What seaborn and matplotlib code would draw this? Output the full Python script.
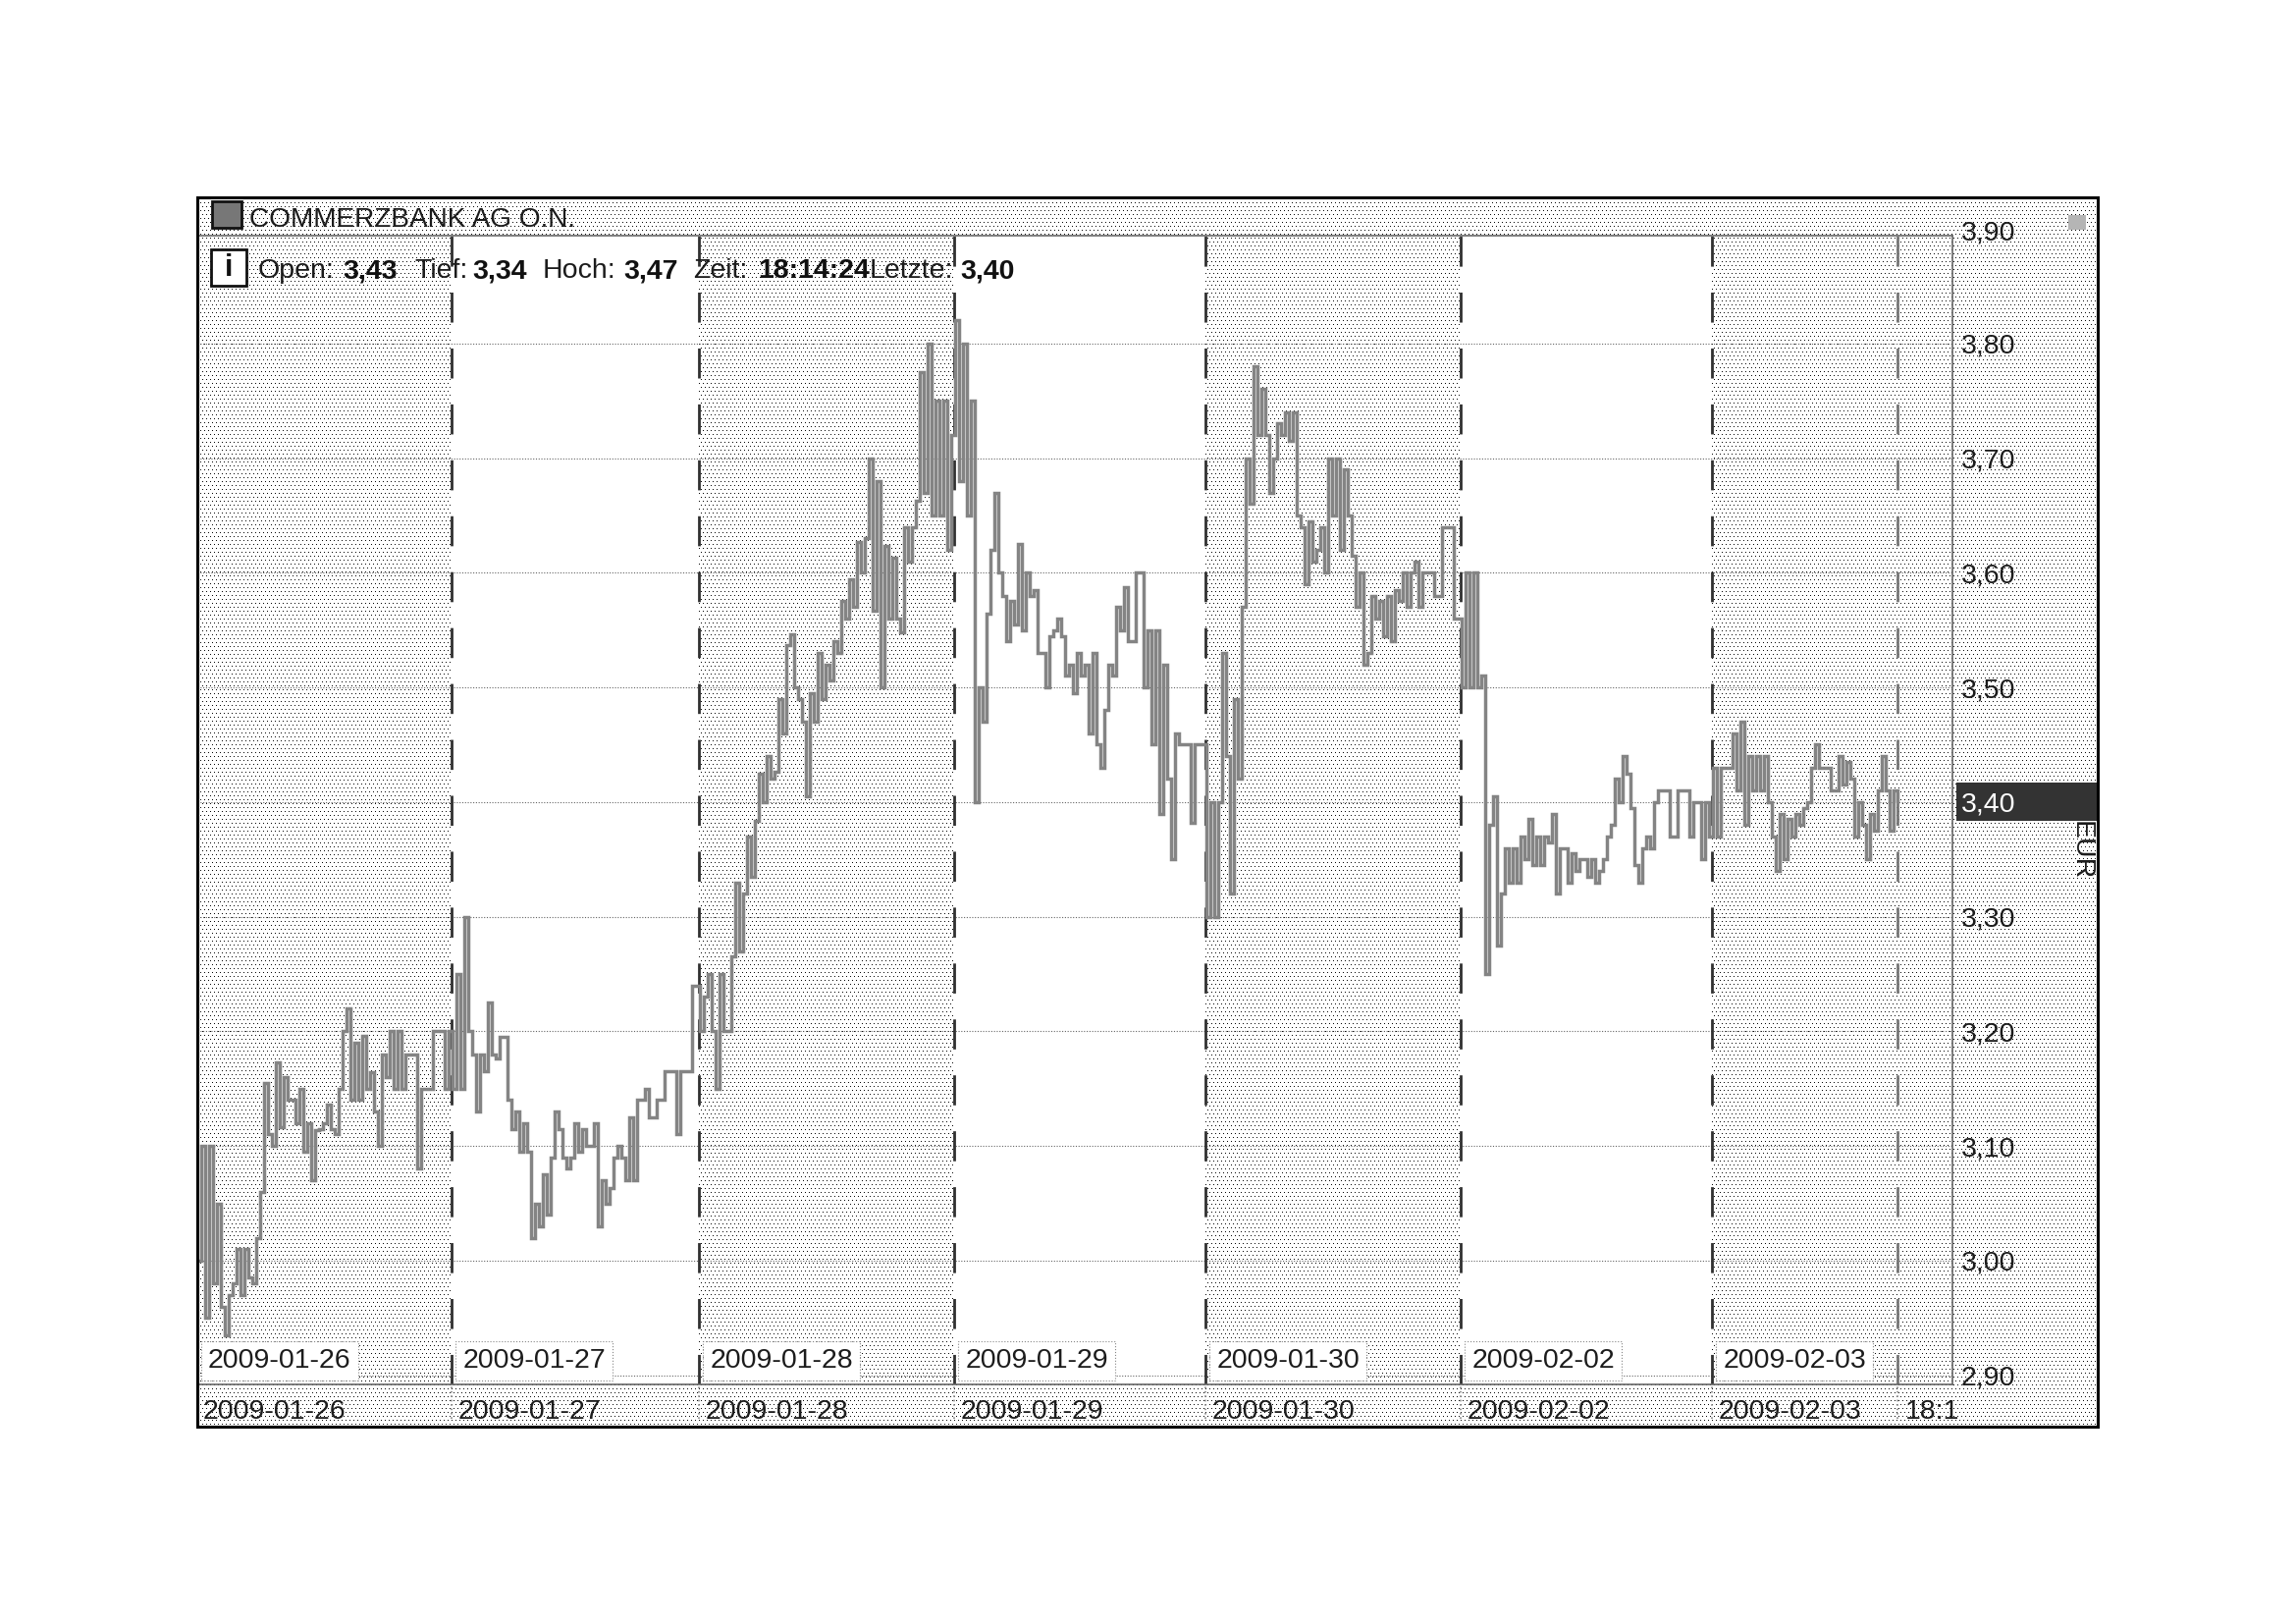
import numpy as np
import pandas as pd
import seaborn as sns
import matplotlib.pyplot as plt
from matplotlib.patches import Rectangle

W, H = 2339, 1654

# intraday price path, one value per tick
day_labels = ["2009-01-26", "2009-01-27", "2009-01-28", "2009-01-29",
              "2009-01-30", "2009-02-02", "2009-02-03"]
jan26 = [3.00, 3.10, 2.95, 3.10, 2.98, 3.05, 2.96, 2.935, 2.97, 2.98, 3.01, 2.97, 3.01, 2.985, 2.98, 3.02,
         3.06, 3.155, 3.11, 3.10, 3.173, 3.116, 3.16, 3.14, 3.14, 3.12, 3.15, 3.095, 3.12, 3.07, 3.114, 3.115,
         3.12, 3.136, 3.115, 3.11, 3.15, 3.20, 3.22, 3.14, 3.19, 3.14, 3.196, 3.15, 3.164, 3.13, 3.10, 3.18,
         3.16, 3.20, 3.15, 3.20, 3.15, 3.18, 3.18, 3.18, 3.08, 3.15, 3.15, 3.15, 3.20, 3.20, 3.20, 3.15, 3.20]
jan27 = [3.15, 3.25, 3.15, 3.30, 3.20, 3.18, 3.13, 3.18, 3.165, 3.225, 3.18, 3.176, 3.195, 3.195, 3.14, 3.115,
         3.13, 3.095, 3.12, 3.095, 3.02, 3.05, 3.03, 3.075, 3.04, 3.09, 3.13, 3.115, 3.09, 3.08, 3.09, 3.12,
         3.095, 3.115, 3.10, 3.10, 3.12, 3.03, 3.07, 3.05, 3.063, 3.09, 3.10, 3.09, 3.07, 3.125, 3.07, 3.14,
         3.14, 3.15, 3.125, 3.125, 3.14, 3.14, 3.165, 3.165, 3.165, 3.11, 3.165, 3.165, 3.165, 3.24, 3.24]
jan28 = [3.20, 3.23, 3.25, 3.20, 3.15, 3.25, 3.20, 3.20, 3.265, 3.33, 3.27, 3.32, 3.37, 3.335, 3.384, 3.425,
         3.40, 3.44, 3.42, 3.426, 3.49, 3.46, 3.537, 3.546, 3.50, 3.49, 3.47, 3.405, 3.495, 3.47, 3.53, 3.49,
         3.52, 3.506, 3.54, 3.53, 3.575, 3.56, 3.594, 3.57, 3.627, 3.60, 3.63, 3.70, 3.567, 3.68, 3.50, 3.623,
         3.56, 3.613, 3.56, 3.548, 3.64, 3.61, 3.64, 3.663, 3.775, 3.67, 3.80, 3.65, 3.75, 3.65, 3.75, 3.62, 3.72]
jan29 = [3.82, 3.68, 3.80, 3.65, 3.75, 3.40, 3.50, 3.47, 3.564, 3.62, 3.67, 3.60, 3.58, 3.54, 3.575, 3.555,
         3.625, 3.55, 3.60, 3.58, 3.585, 3.53, 3.53, 3.50, 3.545, 3.55, 3.56, 3.545, 3.51, 3.52, 3.495, 3.53,
         3.51, 3.52, 3.46, 3.53, 3.45, 3.43, 3.48, 3.52, 3.51, 3.57, 3.55, 3.587, 3.54, 3.54, 3.60, 3.60,
         3.50, 3.55, 3.45, 3.55, 3.39, 3.52, 3.42, 3.35, 3.46, 3.45, 3.45, 3.45, 3.382, 3.45, 3.45, 3.45]
jan30 = [3.30, 3.40, 3.30, 3.40, 3.53, 3.44, 3.32, 3.49, 3.42, 3.57, 3.70, 3.66, 3.78, 3.72, 3.76, 3.72,
         3.67, 3.70, 3.73, 3.72, 3.74, 3.715, 3.74, 3.65, 3.64, 3.59, 3.645, 3.61, 3.62, 3.64, 3.60, 3.70,
         3.65, 3.70, 3.62, 3.69, 3.65, 3.615, 3.57, 3.60, 3.52, 3.53, 3.58, 3.56, 3.575, 3.545, 3.58, 3.54,
         3.585, 3.575, 3.60, 3.57, 3.60, 3.61, 3.57, 3.60, 3.60, 3.60, 3.58, 3.58, 3.64, 3.64, 3.64, 3.56, 3.56]
feb02 = [3.50, 3.60, 3.50, 3.60, 3.50, 3.51, 3.25, 3.38, 3.405, 3.275, 3.32, 3.36, 3.33, 3.36, 3.33, 3.37,
         3.35, 3.385, 3.345, 3.37, 3.345, 3.37, 3.365, 3.39, 3.32, 3.36, 3.36, 3.33, 3.355, 3.34, 3.35, 3.35,
         3.335, 3.35, 3.33, 3.34, 3.35, 3.37, 3.38, 3.42, 3.40, 3.44, 3.425, 3.395, 3.345, 3.33, 3.36, 3.37,
         3.36, 3.40, 3.41, 3.41, 3.41, 3.37, 3.37, 3.41, 3.41, 3.41, 3.37, 3.40, 3.40, 3.35, 3.40, 3.37]
feb03 = [3.43, 3.37, 3.43, 3.43, 3.43, 3.46, 3.41, 3.47, 3.38, 3.44, 3.41, 3.44, 3.41, 3.44, 3.40, 3.37,
         3.34, 3.39, 3.35, 3.385, 3.37, 3.39, 3.38, 3.395, 3.40, 3.43, 3.45, 3.43, 3.43, 3.43, 3.41, 3.41,
         3.44, 3.415, 3.435, 3.42, 3.37, 3.40, 3.38, 3.35, 3.39, 3.375, 3.41, 3.44, 3.41, 3.375, 3.41, 3.40]
days = [jan26, jan27, jan28, jan29, jan30, feb02, feb03]

y_ticks = [2.90, 3.00, 3.10, 3.20, 3.30, 3.40, 3.50, 3.60, 3.70, 3.80]
info_plain = ["Open:", "Tief:", "Hoch:", "Zeit:", "Letzte:"]
info_bold = ["3,43", "3,34", "3,47", "18:14:24", "3,40"]
end_label = "18:1"

df = pd.DataFrame({"price": np.concatenate(days)})
df["tick"] = np.arange(len(df))
bounds = np.cumsum([len(d) for d in days]) - 0.2
bounds[-1] = len(df) - 1


def fx(x):
    return x / W


def fy(y):
    return 1 - y / H


sns.set_theme(style="white")
plt.rcParams["font.family"] = ["Liberation Sans", "DejaVu Sans"]
GREY = "#848484"
INK = "#1c1c1c"
FS = 20.5

fig = plt.figure(figsize=(W / 100, H / 100), dpi=100, facecolor="white")

# stippled panel behind everything
fl, fr, ft, fb = 201, 2137, 201, 1453
dots = np.ones((fb - ft, fr - fl, 3))
dots[1::8, 1::4] = 0.05
dots[5::8, 3::4] = 0.05
fig.figimage(dots, xo=fl, yo=H - fb, origin="upper", zorder=-5)

ax = fig.add_axes([fx(201), fy(1410), fx(1989 - 201), (1410 - 240) / H])
ax.patch.set_alpha(0)
ax.set_xlim(0, 447)
ax.set_ylim(2.892, 3.894)

# white every other day
edges = np.r_[0, bounds]
for i in (1, 3, 5):
    ax.axvspan(edges[i], edges[i + 1], color="white", lw=0, zorder=0)

ax.set_yticks(y_ticks)
ax.yaxis.tick_right()
ax.set_yticklabels([f"{v:.2f}".replace(".", ",") for v in y_ticks], fontsize=FS, color=INK)
ax.tick_params(axis="y", length=0, pad=6.5)
ax.set_xticks([])
ax.grid(axis="y", color="#666666", lw=0.8, ls=(0, (1, 1.5)), zorder=1)
ax.annotate("3,90", xy=(1, 3.90), xycoords=ax.get_yaxis_transform(), xytext=(6.5, -3),
            textcoords="offset points", fontsize=FS, color=INK, va="center", annotation_clip=False)

ax.spines["left"].set_visible(False)
for s in ("top", "right", "bottom"):
    ax.spines[s].set_color("#666666")
    ax.spines[s].set_linewidth(1.2)
    ax.spines[s].set_linestyle((0, (1, 1)))

# day separators
for i, b in enumerate(bounds):
    ax.axvline(b, color="#777777" if i == len(bounds) - 1 else "#303030", lw=2,
               dashes=(11, 9.5), zorder=2)
    ax.vlines(b, 2.862, 2.892, color="#888888", lw=1.2, ls=":", clip_on=False)

sns.lineplot(data=df, x="tick", y="price", drawstyle="steps-post", estimator=None, sort=False,
             color=GREY, lw=2.5, solid_joinstyle="miter", ax=ax, zorder=3)
ax.set_xlabel("")
ax.set_ylabel("")

# date labels, boxed inside the plot and plain in the strip below
for lab, e in zip(day_labels, edges):
    x0 = 201 + 4 * e
    fig.text(fx(x0 + 11), fy(1386), lab, fontsize=FS, color=INK, va="center", ha="left", zorder=6,
             bbox=dict(boxstyle="square,pad=0.25", fc="white", ec="#888888", lw=0.8, ls=":"))
    fig.text(fx(x0 + 6), fy(1438), lab, fontsize=FS, color=INK, va="center", ha="left")
fig.text(fx(1941), fy(1438), end_label, fontsize=FS, color=INK, va="center", ha="left")

# header
fig.add_artist(Rectangle((fx(216), fy(232)), 30 / W, 27 / H, transform=fig.transFigure,
                         fc="#777777", ec="#111111", lw=2, zorder=6))
fig.text(fx(254), fy(224), "COMMERZBANK AG O.N.", fontsize=FS - 0.3, color=INK, va="center", ha="left")
fig.add_artist(Rectangle((fx(215), fy(291)), 36 / W, 37 / H, transform=fig.transFigure,
                         fc="white", ec="#111111", lw=2, zorder=6))
fig.text(fx(233), fy(273), "i", fontsize=22, fontweight="bold", color="#111111", va="center", ha="center", zorder=7)
plain_x = [263, 422, 553, 706, 886]
bold_x = [349, 481, 635, 772, 978]
for t, x in zip(info_plain, plain_x):
    fig.text(fx(x), fy(276), t, fontsize=FS, color=INK, va="center", ha="left", zorder=7)
for t, x in zip(info_bold, bold_x):
    fig.text(fx(x), fy(276), t, fontsize=FS, fontweight="bold", color="#111111", va="center", ha="left", zorder=7)

# little logo top right
fig.add_artist(Rectangle((fx(2107), fy(234)), 18 / W, 15 / H, transform=fig.transFigure,
                         fc="#b5b5b5", ec="none", zorder=6))

# last price box and currency
fig.add_artist(Rectangle((fx(1993), fy(836)), 144 / W, 39 / H, transform=fig.transFigure,
                         fc="#333333", ec="none", zorder=-1))
for tl, v in zip(ax.get_yticklabels(), y_ticks):
    if abs(v - 3.40) < 1e-6:
        tl.set_color("white")
fig.text(fx(2120), fy(866), "EUR", fontsize=FS, color=INK, rotation=-90, va="center", ha="center")

# outer frame
fig.add_artist(Rectangle((fx(fl), fy(fb)), (fr - fl) / W, (fb - ft) / H, transform=fig.transFigure,
                         fill=False, ec="black", lw=2.2, zorder=8))

fig.savefig("out.png", dpi=100, facecolor="white")
